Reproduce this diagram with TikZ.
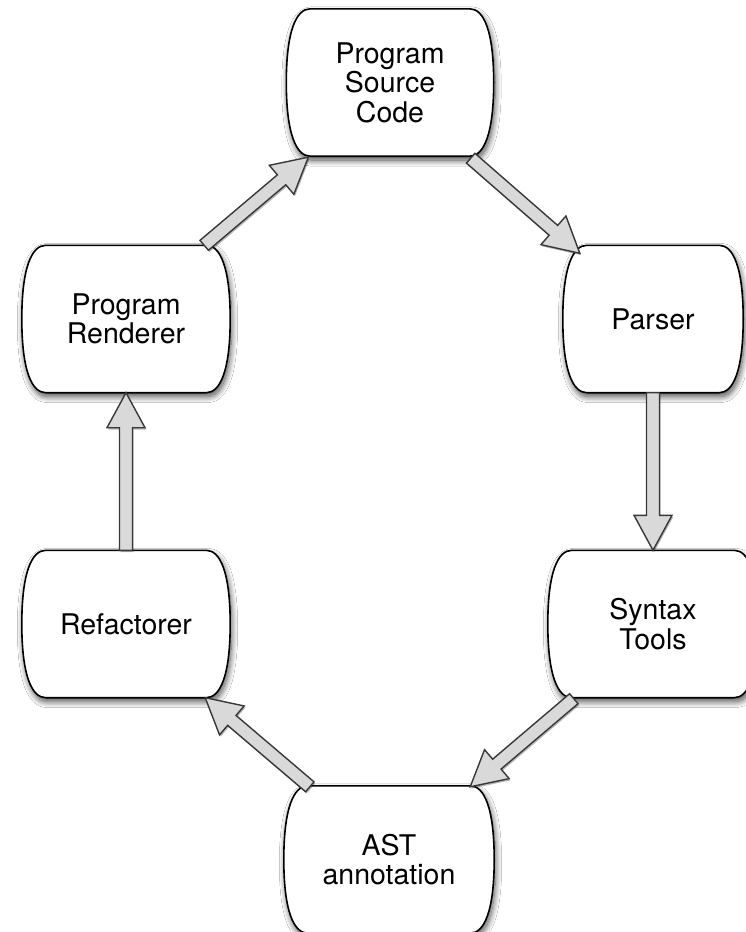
\documentclass[tikz,border=0pt]{standalone}
\usepackage{fontspec}
\setmainfont{TeX Gyre Heros}
\usetikzlibrary{calc,backgrounds,shadows,shadows.blur}
\tikzset{
  cylbox/.style={shape=rectangle, draw=none, inner sep=0pt, minimum height=147pt,
    align=center, font=\fontsize{28.5}{29.5}\selectfont},
  boxline/.style={draw=black, line width=1.6pt, fill=white,
    blur shadow={shadow xshift=1.5pt, shadow yshift=-4pt, shadow blur radius=6pt,
      shadow blur steps=12, shadow opacity=70}},
  fatarrowline/.style={draw=black!78, line width=1.4pt, fill=black!15, line join=miter,
    drop shadow={shadow xshift=1.2pt, shadow yshift=-1.8pt, fill=black, opacity=0.28}},
}
\newcommand\bulgebox[1]{%
  \draw[boxline]
    ($(#1.north west)+(24,0)$) -- ($(#1.north east)+(-24,0)$)
    .. controls ($(#1.north east)+(-10,0)$) and ($(#1.north east)+(0,22)$) .. (#1.east)
    .. controls ($(#1.south east)+(0,-22)$) and ($(#1.south east)+(-10,0)$) .. ($(#1.south east)+(-24,0)$)
    -- ($(#1.south west)+(24,0)$)
    .. controls ($(#1.south west)+(10,0)$) and ($(#1.south west)+(0,-22)$) .. (#1.west)
    .. controls ($(#1.north west)+(0,22)$) and ($(#1.north west)+(10,0)$) .. ($(#1.north west)+(24,0)$)
    -- cycle;}
\newcommand\fatarrow[2]{%
  \draw[fatarrowline] ($(#1)!6.5pt!90:(#2)$) -- ($(#2)!35.6pt!-10.52:(#1)$)
    -- ($(#2)!39.82pt!-28.5:(#1)$) -- (#2) -- ($(#2)!39.82pt!28.5:(#1)$)
    -- ($(#2)!35.6pt!10.52:(#1)$) -- ($(#1)!6.5pt!-90:(#2)$) -- cycle;}
\begin{document}
\begin{tikzpicture}[x=1pt,y=-1pt]
  \useasboundingbox (0,0) rectangle (745,932);
  \node[cylbox, minimum width=207pt] (src) at (390,82.5) {Program\\Source\\Code};
  \node[cylbox, minimum width=180pt] (par) at (653,319) {Parser};
  \node[cylbox, minimum width=210pt] (syn) at (653,624) {Syntax\\Tools};
  \node[cylbox, minimum width=210pt] (ast) at (389,859.5) {AST\\annotation};
  \node[cylbox, minimum width=208pt] (ref) at (126,624) {Refactorer};
  \node[cylbox, minimum width=208pt] (ren) at (126,319) {Program\\Renderer};
  \begin{pgfonlayer}{background}
    \fill[white] (0,0) rectangle (745,932);
    \bulgebox{src}
    \bulgebox{par}
    \bulgebox{syn}
    \bulgebox{ast}
    \bulgebox{ref}
    \bulgebox{ren}
  \end{pgfonlayer}
  \coordinate (a1s) at ($(ren.north east)+(-26,0)$);
  \coordinate (a1e) at ($(src.south west)+(22,1)$);
  \coordinate (a2s) at ($(src.south east)+(-23,2)$);
  \coordinate (a2e) at ($(par.north west)+(17,8)$);
  \coordinate (a4s) at ($(syn.south west)+(26,1)$);
  \coordinate (a4e) at ($(ast.north east)+(-24,1)$);
  \coordinate (a5s) at ($(ast.north west)+(26,1)$);
  \coordinate (a5e) at ($(ref.south east)+(-25,0)$);
  \fatarrow{a1s}{a1e}
  \fatarrow{a2s}{a2e}
  \fatarrow{par.south}{syn.north}
  \fatarrow{a4s}{a4e}
  \fatarrow{a5s}{a5e}
  \fatarrow{ref.north}{ren.south}
\end{tikzpicture}
\end{document}
